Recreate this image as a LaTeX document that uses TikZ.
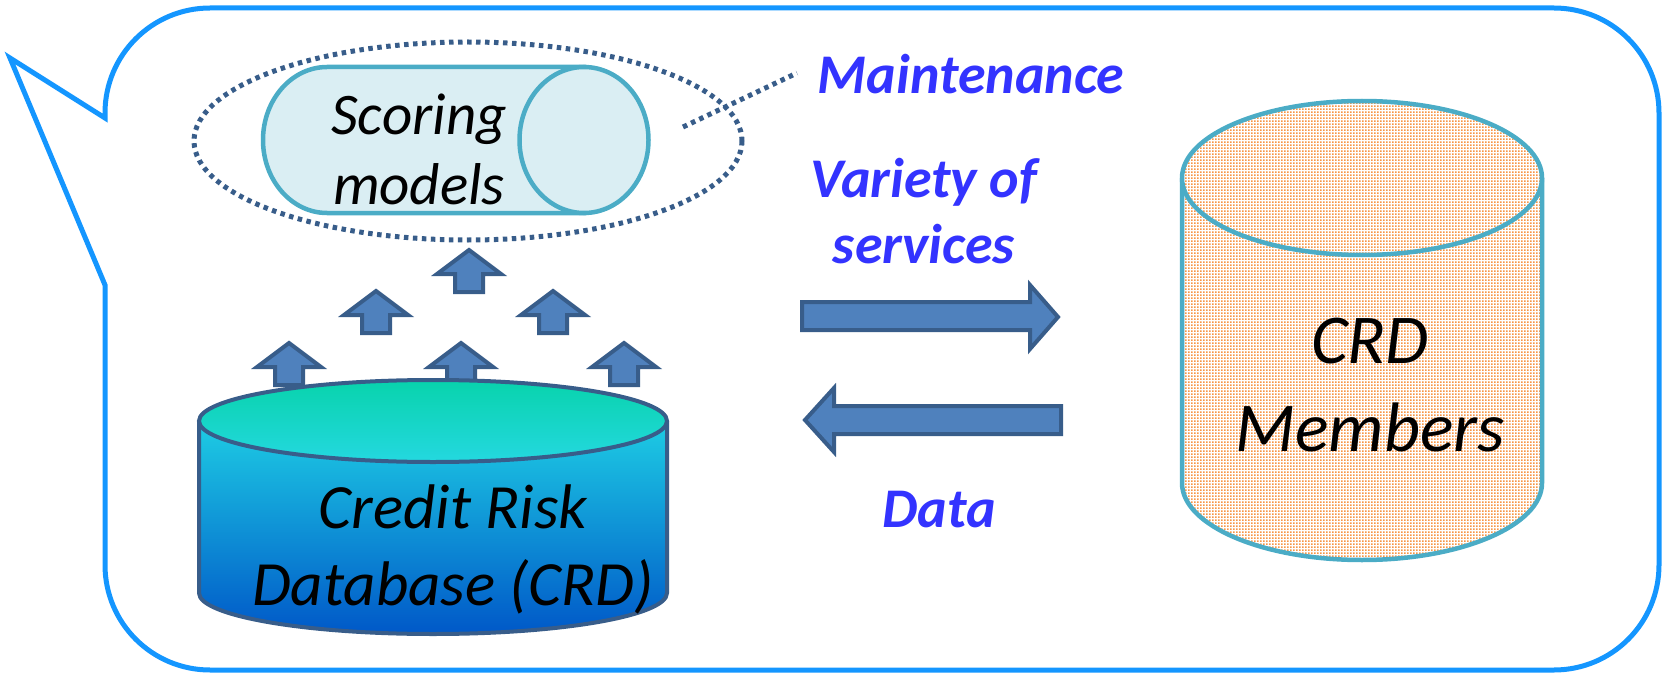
\documentclass[tikz,border=0pt]{standalone}
\usepackage{fontspec}
\setmainfont{Carlito}
\usetikzlibrary{patterns.meta}
\definecolor{calloutblue}{RGB}{20,150,255}
\definecolor{darkedge}{RGB}{56,93,138}
\definecolor{arrfill}{RGB}{79,129,189}
\definecolor{cyledge}{RGB}{75,172,198}
\definecolor{cylfill}{RGB}{218,238,243}
\definecolor{lblblue}{RGB}{51,51,255}
\definecolor{dotorange}{RGB}{247,150,70}
\definecolor{dbtopa}{RGB}{8,211,172}
\definecolor{dbtopb}{RGB}{36,216,224}
\definecolor{dbbodya}{RGB}{30,205,228}
\definecolor{dbbodyb}{RGB}{0,88,200}
\tikzdeclarepattern{name=crddots, type=uncolored, bottom left={(0pt,0pt)}, top right={(3pt,3pt)}, tile size={(3pt,3pt)}, code={\fill (0pt,0pt) rectangle (2.1pt,2.1pt);}}
\tikzset{
  calloutline/.style={draw=calloutblue, line width=5pt, line join=miter},
  dotline/.style={draw=darkedge, line width=5pt, dash pattern=on 4.5pt off 4.5pt},
  blockarrow/.style={draw=darkedge, fill=arrfill, line width=4pt, line join=miter},
  uparrow/.pic={\path[blockarrow] (0,0) -- (32,24) -- (14,24) -- (14,42) -- (-14,42) -- (-14,24) -- (-32,24) -- cycle;},
  dbline/.style={draw=darkedge, line width=4pt},
  cylline/.style={draw=cyledge, line width=4.5pt},
  lbl/.style={inner sep=0pt, text=lblblue, align=center, font=\fontsize{56}{66}\selectfont\bfseries\itshape},
  txt/.style={inner sep=0pt, text=black, align=center}
}
\begin{document}
\begin{tikzpicture}[x=1pt,y=-1pt]
\useasboundingbox (0,0) rectangle (1663,674);
% callout
\path[calloutline] (210,8) -- (1554,8) .. controls (1612,8) and (1659,55) .. (1659,113) -- (1659,565) .. controls (1659,623) and (1612,670) .. (1554,670) -- (210,670) .. controls (152,670) and (105,623) .. (105,565) -- (105,285) -- (10,58) -- (105,118) -- (105,113) .. controls (105,55) and (152,8) .. (210,8) -- cycle;
% dotted group ellipse
\path[dotline] (468,141) ellipse [x radius=274, y radius=99];
% scoring models cylinder
\path[cylline, fill=cylfill] (584,67) -- (327,67) .. controls (291.7,67) and (263,99.7) .. (263,140) .. controls (263,180.3) and (291.7,213) .. (327,213) -- (584,213) -- cycle;
\path[cylline, fill=cylfill] (584,140) ellipse [x radius=64.5, y radius=73];
\node[txt, font=\fontsize{59}{70}\selectfont\itshape] (scoring) at (419,149) {Scoring\\models};
% maintenance
\node[lbl] (maint) at (971,74) {Maintenance};
\coordinate (leadA) at (683,127);
\coordinate (leadB) at (797,73);
\draw[dotline] (leadA) -- (leadB);
% small up arrows
\pic at (469,250) {uparrow};
\pic at (376,291) {uparrow};
\pic at (553,291) {uparrow};
\pic at (289,343) {uparrow};
\pic at (461,343) {uparrow};
\pic at (624,343) {uparrow};
% credit risk database cylinder
\path[top color=dbbodya, bottom color=dbbodyb] (199,421) -- (199,593) .. controls (199,615.6) and (303.8,634) .. (433,634) .. controls (562.2,634) and (667,615.6) .. (667,593) -- (667,421) -- cycle;
\path[dbline] (199,421) -- (199,593) .. controls (199,615.6) and (303.8,634) .. (433,634) .. controls (562.2,634) and (667,615.6) .. (667,593) -- (667,421);
\path[dbline, top color=dbtopa, bottom color=dbtopb] (433,421) ellipse [x radius=234, y radius=41];
\node[txt, font=\fontsize{63}{77}\selectfont\itshape] (crd) at (453,549) {Credit Risk\\Database (CRD)};
% big arrows
\path[blockarrow] (802,302) -- (1030,302) -- (1030,285) -- (1058,317) -- (1030,349) -- (1030,330) -- (802,330) -- cycle;
\path[blockarrow] (1061,406) -- (834,406) -- (834,388) -- (805,420) -- (834,452) -- (834,434) -- (1061,434) -- cycle;
\node[lbl] (variety) at (924,211) {Variety of\\services};
\node[lbl] (data) at (939,510) {Data};
% CRD members cylinder
\path[fill=white] (1182,178) -- (1182,483) .. controls (1182,525.5) and (1262.6,560) .. (1362,560) .. controls (1461.4,560) and (1542,525.5) .. (1542,483) -- (1542,178) -- cycle;
\path[pattern={crddots}, pattern color=dotorange] (1182,178) -- (1182,483) .. controls (1182,525.5) and (1262.6,560) .. (1362,560) .. controls (1461.4,560) and (1542,525.5) .. (1542,483) -- (1542,178) -- cycle;
\path[cylline] (1182,178) -- (1182,483) .. controls (1182,525.5) and (1262.6,560) .. (1362,560) .. controls (1461.4,560) and (1542,525.5) .. (1542,483) -- (1542,178);
\path[fill=white] (1362,178) ellipse [x radius=180, y radius=77];
\path[pattern={crddots}, pattern color=dotorange] (1362,178) ellipse [x radius=180, y radius=77];
\path[cylline] (1362,178) ellipse [x radius=180, y radius=77];
\node[txt, font=\fontsize{70}{88}\selectfont\itshape] (members) at (1370,385) {CRD\\Members};
\end{tikzpicture}
\end{document}
